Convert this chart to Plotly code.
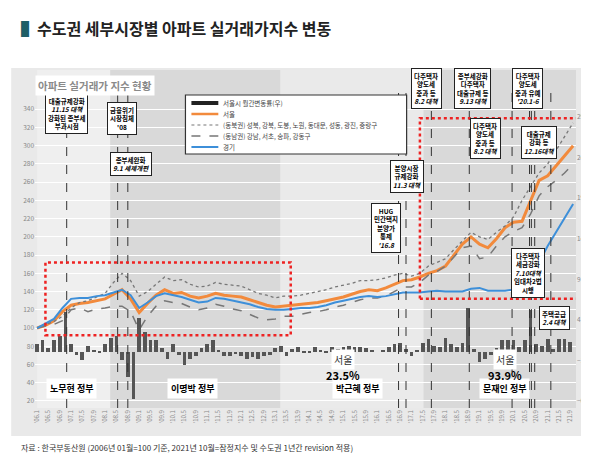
import plotly.graph_objects as go
import pandas as pd

# quarterly readings, 2006.1 .. 2021.10
q_dates = pd.date_range("2006-01-01", "2021-10-01", freq="3MS")
seoul = [100, 103, 108, 118, 125, 127, 128, 130, 132, 137, 142, 132,
         117, 127, 136, 142, 138, 139, 135, 133, 135, 138, 136, 135,
         134, 131, 128, 125, 123, 124, 125, 126, 127, 128, 130, 132,
         134, 137, 140, 142, 141, 144, 148, 152, 153, 156, 160, 163,
         168, 180, 192, 200, 192, 188, 198, 210, 216, 217, 240, 262,
         267, 278, 290, 300]
northeast = [100, 104, 107, 113, 122, 128, 130, 134, 138, 150, 160, 152,
             135, 140, 148, 156, 152, 153, 148, 145, 146, 150, 148, 147,
             146, 142, 138, 136, 133, 135, 135, 136, 138, 140, 142, 145,
             147, 149, 152, 152, 153, 155, 158, 160, 157, 160, 168, 172,
             176, 186, 196, 205, 200, 197, 205, 212, 222, 240, 255, 270,
             280, 295, 310, 325]
southeast = [100, 102, 104, 108, 120, 122, 118, 121, 122, 124, 124, 118,
             98, 113, 124, 130, 128, 127, 123, 120, 122, 126, 124, 121,
             119, 115, 111, 109, 110, 113, 113, 115, 117, 118, 120, 123,
             125, 128, 131, 133, 133, 135, 140, 145, 145, 150, 158, 162,
             168, 178, 188, 190, 176, 178, 190, 200, 206, 210, 225, 245,
             255, 262, 270, 280]
gyeonggi = [100, 105, 110, 122, 132, 133, 133, 135, 136, 139, 142, 136,
            122, 128, 135, 138, 136, 134, 131, 128, 129, 133, 132, 130,
            128, 126, 123, 121, 120, 120, 121, 122, 122, 123, 125, 128,
            130, 132, 134, 135, 134, 135, 137, 139, 139, 139, 140, 141,
            140, 140, 140, 143, 144, 141, 141, 141, 142, 143, 150, 172,
            190, 205, 220, 236]

# Seoul monthly change (%), read every second month 2006.1 .. 2021.9
b_dates = pd.date_range("2006-01-01", "2021-09-01", freq="2MS")
seoul_chg = [1.0, 1.5, 0.5, 1.5, 2.0, 5.0,
             1.0, -0.3, -1.0, 0.8, 0.3, 0.2,
             1.0, 1.8, 2.0, -1.0, -3.0, -5.8,
             4.2, 2.5, 1.5, 1.5, 0.5, -0.8,
             1.0, -0.3, -1.5, -0.8, -0.5, 0.5,
             1.0, 1.5, 0.3, -0.5, -0.5, -0.2,
             -0.5, -0.8, -0.6, -0.8, -0.5, -0.3,
             0.5, 0.8, -0.4, 0.4, 0.6, 0.2,
             0.2, 0.6, 0.3, 0.2, 0.6, 0.4,
             0.7, 0.8, 0.6, 0.7, 0.5, 0.3,
             0.0, 0.3, 0.6, 1.0, 1.2, 0.4,
             -0.5, 0.3, 1.2, 1.7, 0.8, 0.6,
             1.8, 1.0, 0.6, 1.2, 5.5, 0.4,
             -1.2, -0.8, -0.3, 0.5, 1.5, 1.5,
             1.5, 0.6, 1.5, 5.2, 1.0, 0.8,
             1.7, 0.4, 1.6, 1.6, 1.3]

tick_dates = pd.date_range("2006-01-01", "2021-09-01", freq="4MS")
tick_text = ["'%02d.%d" % (d.year % 100, d.month) for d in tick_dates]

policy_lines = ["2006-11-15", "2008-05-15", "2008-09-01", "2016-08-15", "2016-11-03",
                "2017-08-02", "2018-09-13", "2019-12-16", "2020-06-20", "2020-07-10",
                "2020-08-15", "2021-02-04"]

notes = [
    ("대출규제강화<br><i>11.15 대책</i><br>강화된 종부세<br>부과시점", "2006-11-15", 335),
    ("금융위기<br>시장침체<br>'08", "2008-07-01", 330),
    ("종부세완화<br><i>9.1 세제개편</i>", "2008-10-01", 280),
    ("HUG<br>민간택지<br>분양가<br>통제<br><i>'16.8</i>", "2016-04-01", 210),
    ("분양시장<br>규제강화<br><i>11.3 대책</i>", "2016-11-15", 266),
    ("다주택자<br>양도세<br>중과 등<br><i>8.2 대책</i>", "2017-06-15", 363),
    ("종부세강화<br>다주택자<br>대출규제 등<br><i>9.13 대책</i>", "2018-10-15", 363),
    ("다주택자<br>양도세<br>중과 유예<br><i>'20.1-6</i>", "2020-06-01", 363),
    ("다주택자<br>양도세<br>중과 등<br><i>8.2 대책</i>", "2019-03-01", 308),
    ("대출규제<br>강화 등<br><i>12.16대책</i>", "2020-10-01", 304),
    ("다주택자<br>세금강화<br><i>7.10대책</i><br>임대차2법<br>시행", "2020-06-01", 160),
    ("주택공급<br><i>2.4 대책</i>", "2021-03-15", 111),
]

govs = [("노무현 정부", "2007-01-01"), ("이명박 정부", "2010-08-01"),
        ("박근혜 정부", "2015-06-01"), ("문재인 정부", "2019-10-01")]

legend_names = ["서울시 월간변동률(우)", "서울",
                "(동북권) 성북, 강북, 도봉, 노원, 동대문, 성동, 광진, 중랑구",
                "(동남권) 강남, 서초, 송파, 강동구", "경기"]

FONT = "Noto Sans CJK KR"
fig = go.Figure()

fig.add_trace(go.Bar(x=b_dates, y=seoul_chg, yaxis="y2", name=legend_names[0],
                     marker=dict(color="#555555", line=dict(width=0)),
                     width=1000 * 3600 * 24 * 40))
fig.add_trace(go.Scatter(x=q_dates, y=seoul, name=legend_names[1], mode="lines",
                         line=dict(color="#f28a3c", width=3)))
fig.add_trace(go.Scatter(x=q_dates, y=northeast, mode="lines", name=legend_names[2],
                         line=dict(color="#777777", width=1.3, dash="dot")))
fig.add_trace(go.Scatter(x=q_dates, y=southeast, mode="lines", name=legend_names[3],
                         line=dict(color="#777777", width=1.5, dash="dash")))
fig.add_trace(go.Scatter(x=q_dates, y=gyeonggi, name=legend_names[4], mode="lines",
                         line=dict(color="#3d8fd9", width=2)))


def px(x):
    return (x - 27) / 543


def py(y):
    return (400 - y) / 338


shapes = [dict(type="rect", xref="paper", yref="paper", x0=-0.044, x1=1.03, y0=-0.083, y1=1.006,
               fillcolor="#e9e9e9", line=dict(width=0), layer="below")]
bands = [("2006-01-01", "2008-02-25", "#efefef"), ("2008-02-25", "2013-02-25", "#d9d9d9"),
         ("2013-02-25", "2017-05-10", "#eaeaea"), ("2017-05-10", "2021-11-01", "#d9d9d9")]
for a, b, c in bands:
    shapes.append(dict(type="rect", xref="x", yref="paper", x0=a, x1=b, y0=0, y1=1,
                       fillcolor=c, line=dict(width=0), layer="below"))
for d in policy_lines:
    shapes.append(dict(type="line", xref="x", yref="paper", x0=d, x1=d, y0=0, y1=0.95,
                       line=dict(color="#333333", width=1, dash="dash")))
shapes.append(dict(type="rect", xref="x", yref="y", x0="2006-04-01", x1="2013-06-15", y0=92, y1=172,
                   line=dict(color="#ee2222", width=2.5, dash="dot")))
shapes.append(dict(type="rect", xref="x", yref="y", x0="2017-04-01", x1="2021-12-15", y0=132, y1=330,
                   line=dict(color="#ee2222", width=2.5, dash="dot")))

# hand-drawn legend box (plotly's own legend rows are too tall here)
shapes.append(dict(type="rect", xref="paper", yref="paper", x0=px(178), x1=px(400), y0=py(146), y1=py(87),
                   fillcolor="white", line=dict(color="#333333", width=1.2)))
leg_styles = [dict(color="#222222", width=4), dict(color="#f28a3c", width=2.5),
              dict(color="#777777", width=1.2, dash="dot"), dict(color="#777777", width=1.3, dash="dash"),
              dict(color="#3d8fd9", width=2)]
ann = []
for i, (nm, st) in enumerate(zip(legend_names, leg_styles)):
    yy = 95 + i * 11
    shapes.append(dict(type="line", xref="paper", yref="paper", x0=px(184), x1=px(211),
                       y0=py(yy), y1=py(yy), line=st))
    ann.append(dict(text=nm, x=px(214), y=py(yy), xref="paper", yref="paper", xanchor="left",
                    yanchor="middle", showarrow=False, font=dict(size=6.5, color="#444444", family=FONT)))

for t, x, y in notes:
    ann.append(dict(text="<b>" + t + "</b>", x=x, y=y, xref="x", yref="y", showarrow=False,
                    font=dict(size=6.5, color="black", family=FONT), bgcolor="white",
                    bordercolor="#222222", borderwidth=1, borderpad=2))
for t, x in govs:
    ann.append(dict(text="<b>" + t + "</b>", x=x, y=34, xref="x", yref="y", showarrow=False,
                    font=dict(size=9, color="black", family=FONT), bgcolor="white", borderpad=3))
for t, x, y in [("서울", "2015-01-01", 65), ("서울", "2019-10-01", 65)]:
    ann.append(dict(text=t, x=x, y=y, xref="x", yref="y", showarrow=False,
                    font=dict(size=10, color="#333333", family=FONT), bgcolor="white", borderpad=2))
for t, x in [("23.5%", "2015-01-01"), ("93.9%", "2019-10-01")]:
    ann.append(dict(text="<b>" + t + "</b>", x=x, y=49, xref="x", yref="y", showarrow=False,
                    font=dict(size=11, color="black", family=FONT)))
ann.append(dict(text="<b><span style='color:#1f5f66'>▌</span>수도권 세부시장별 아파트 실거래가지수 변동</b>",
                x=-0.03, y=1.124, xref="paper", yref="paper", xanchor="left", yanchor="middle",
                showarrow=False, font=dict(size=16, color="#222222", family=FONT)))
ann.append(dict(text="<b>아파트 실거래가 지수 현황</b>", x=0.0, y=0.985, xref="paper", yref="paper",
                xanchor="left", yanchor="top", showarrow=False, bgcolor="white", borderpad=2,
                font=dict(size=10.5, color="#8a8a8a", family=FONT)))
ann.append(dict(text="자료 : 한국부동산원 (2006년 01월=100 기준, 2021년 10월=잠정지수 및 수도권 1년간 revision 적용)",
                x=-0.03, y=-0.118, xref="paper", yref="paper", xanchor="left", yanchor="middle",
                showarrow=False, font=dict(size=8, color="#333333", family=FONT)))

fig.update_layout(
    width=589, height=460, margin=dict(l=27, r=19, t=62, b=60),
    paper_bgcolor="white", plot_bgcolor="rgba(0,0,0,0)",
    font=dict(family=FONT), showlegend=False, bargap=0,
    shapes=shapes, annotations=ann,
    xaxis=dict(range=["2005-12-10", "2021-11-01"], tickvals=tick_dates, ticktext=tick_text,
               tickangle=-90, tickfont=dict(size=6, color="#888888"), showgrid=False, zeroline=False),
    yaxis=dict(range=[12.3, 383], tickvals=list(range(20, 341, 20)), gridcolor="white",
               gridwidth=1, tickfont=dict(size=6.5, color="#888888"), zeroline=False),
    yaxis2=dict(range=[-6.86, 34.8], overlaying="y", side="right", tickvals=[-6, -1, 4, 9, 14, 19, 24, 29],
                showgrid=False, tickfont=dict(size=6.5, color="#888888"), zeroline=False),
)

fig.write_html("out.html")
